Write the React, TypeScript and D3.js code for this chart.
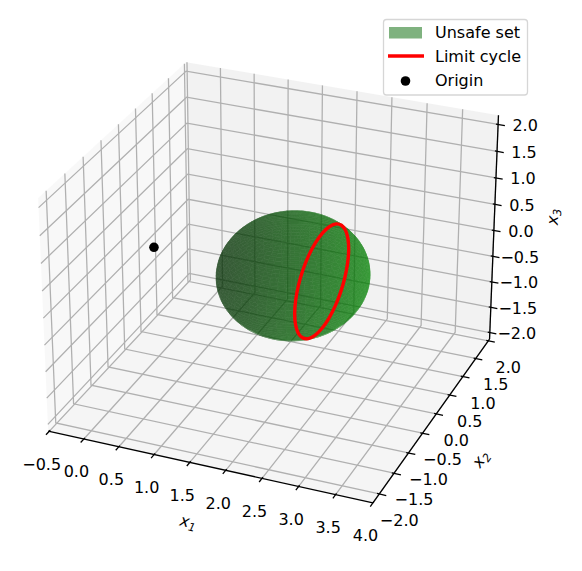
import React from "react";
import * as d3 from "d3";

const xTicks = [-0.5, 0, 0.5, 1, 1.5, 2, 2.5, 3, 3.5, 4];
const yTicks = [-2, -1.5, -1, -0.5, 0, 0.5, 1, 1.5, 2];
const zTicks = [-2, -1.5, -1, -0.5, 0, 0.5, 1, 1.5, 2];
const xE = [-0.515, 4.0];
const yE = [-2.21, 2.05];
const zE = [-2.13, 2.17];
const sphereCentre = [1.965, 0, -0.04];
const sphereRadius = 1.0;
const sphereSteps = 50;
const cycleX1 = 2.375;
const cycleX2 = [0.9, 0.869, 0.779, 0.636, 0.45, 0.233, 0, -0.233, -0.45, -0.636, -0.779, -0.869, -0.9, -0.869, -0.779, -0.636, -0.45, -0.233, 0, 0.233, 0.45, 0.636, 0.779, 0.869];
const cycleX3 = [-0.04, 0.193, 0.41, 0.596, 0.739, 0.829, 0.86, 0.829, 0.739, 0.596, 0.41, 0.193, -0.04, -0.273, -0.49, -0.676, -0.819, -0.909, -0.94, -0.909, -0.819, -0.676, -0.49, -0.273];
const origin = [-0.04, 0, -0.02];
const legendLabels = ["Unsafe set", "Limit cycle", "Origin"];

const W = 582, H = 571;
const elev = (28 * Math.PI) / 180, azim = (-67.5 * Math.PI) / 180, dist = 10;
const boxUnit = (1.8294640721620434 * 25) / 24 / Math.hypot(4, 4, 3);
const box = [4 * boxUnit, 4 * boxUnit, 3 * boxUnit];
const bx = d3.scaleLinear().domain(xE).range([0, box[0]]);
const by = d3.scaleLinear().domain(yE).range([0, box[1]]);
const bz = d3.scaleLinear().domain(zE).range([0, box[2]]);
const wv = [Math.cos(elev) * Math.cos(azim), Math.cos(elev) * Math.sin(azim), Math.sin(elev)];
const un = Math.hypot(wv[0], wv[1]);
const uv = [-wv[1] / un, wv[0] / un, 0];
const vv = [-wv[2] * uv[1], wv[2] * uv[0], wv[0] * uv[1] - wv[1] * uv[0]];
const sx = d3.scaleLinear().domain([-0.1, 0.1]).range([275 - 289.5, 275 + 289.5]);
const sy = d3.scaleLinear().domain([-0.1, 0.1]).range([272 + 289.5, 272 - 289.5]);

function project(x: number, y: number, z: number) {
  const d = [bx(x) - box[0] / 2, by(y) - box[1] / 2, bz(z) - box[2] / 2];
  const dot = (a: number[]) => a[0] * d[0] + a[1] * d[1] + a[2] * d[2];
  const depth = dist - dot(wv);
  return { x: sx(dot(uv) / depth), y: sy(dot(vv) / depth), depth };
}
const line3 = (pts: number[][]) => {
  const p = pts.map((q) => project(q[0], q[1], q[2]));
  return d3.line<{ x: number; y: number }>().x((d) => d.x).y((d) => d.y)(p) || "";
};

// sphere mesh: two hemispheres, each opaque inside a translucent group
const light = [-0.6667, -0.6667, 0.3333];
type Quad = { d: string; fill: string; front: boolean };
function sphereQuads(): Quad[] {
  const quads: Quad[] = [];
  const us = d3.range(sphereSteps + 1).map((i) => (2 * Math.PI * i) / sphereSteps);
  const vs = d3.range(sphereSteps + 1).map((i) => (Math.PI * i) / sphereSteps);
  const pt = (u: number, v: number) => [
    sphereCentre[0] + sphereRadius * Math.cos(u) * Math.sin(v),
    sphereCentre[1] + sphereRadius * Math.sin(u) * Math.sin(v),
    sphereCentre[2] + sphereRadius * Math.cos(v),
  ];
  for (let i = 0; i < sphereSteps; i++)
    for (let j = 0; j < sphereSteps; j++) {
      const um = (us[i] + us[i + 1]) / 2, vm = (vs[j] + vs[j + 1]) / 2;
      const n = [Math.cos(um) * Math.sin(vm), Math.sin(um) * Math.sin(vm), Math.cos(vm)];
      const shade = -(n[0] * light[0] + n[1] * light[1] + n[2] * light[2]);
      const k = 0.3 + (0.7 * (shade + 1)) / 2;
      const corners = [pt(us[i], vs[j]), pt(us[i + 1], vs[j]), pt(us[i + 1], vs[j + 1]), pt(us[i], vs[j + 1])];
      const prj = corners.map((c) => project(c[0], c[1], c[2]));
      quads.push({
        d: "M" + prj.map((p) => `${p.x.toFixed(2)},${p.y.toFixed(2)}`).join("L") + "Z",
        fill: `rgb(0,${Math.round(136 * k)},0)`,
        front: n[0] * wv[0] + n[1] * wv[1] + n[2] * wv[2] > 0,
      });
    }
  return quads;
}

const GRID = "#b0b0b0";
const FONT = "'DejaVu Sans', sans-serif";
const FS = 16;
const fmt = (v: number) => v.toFixed(1).replace("-", "\u2212");
const dx = (xE[1] - xE[0]) / 12, dy = (yE[1] - yE[0]) / 12;

export default function App() {
  const quads = sphereQuads();
  const cyclePts = cycleX2.map((y, i) => project(cycleX1, y, cycleX3[i]));
  const cyclePath = d3.line<{ x: number; y: number }>().x((d) => d.x).y((d) => d.y).curve(d3.curveCatmullRomClosed)(cyclePts) || "";
  const o = project(origin[0], origin[1], origin[2]);
  const pane = (pts: number[][], fill: string, key: string) => <path key={key} d={line3(pts) + "Z"} fill={fill} />;
  return (
    <svg width={W} height={H} viewBox={`0 0 ${W} ${H}`} style={{ position: "absolute", left: 0, top: 0 }} fontFamily={FONT}>
      <rect width={W} height={H} fill="#fff" />
      {pane([[xE[0], yE[0], zE[0]], [xE[0], yE[1], zE[0]], [xE[0], yE[1], zE[1]], [xE[0], yE[0], zE[1]]], "rgba(242,242,242,0.5)", "px")}
      {pane([[xE[0], yE[1], zE[0]], [xE[1], yE[1], zE[0]], [xE[1], yE[1], zE[1]], [xE[0], yE[1], zE[1]]], "rgba(230,230,230,0.5)", "py")}
      {pane([[xE[0], yE[0], zE[0]], [xE[1], yE[0], zE[0]], [xE[1], yE[1], zE[0]], [xE[0], yE[1], zE[0]]], "rgba(236,236,236,0.5)", "pz")}
      <g fill="none" stroke={GRID} strokeWidth={1.28}>
        {xTicks.map((t) => <path key={"gx" + t} d={line3([[t, yE[0], zE[0]], [t, yE[1], zE[0]], [t, yE[1], zE[1]]])} />)}
        {yTicks.map((t) => <path key={"gy" + t} d={line3([[xE[1], t, zE[0]], [xE[0], t, zE[0]], [xE[0], t, zE[1]]])} />)}
        {zTicks.map((t) => <path key={"gz" + t} d={line3([[xE[1], yE[1], t], [xE[0], yE[1], t], [xE[0], yE[0], t]])} />)}
      </g>
      <g fill="none" stroke="#000" strokeWidth={1.28}>
        <path d={line3([[xE[0], yE[0], zE[0]], [xE[1], yE[0], zE[0]]])} />
        <path d={line3([[xE[1], yE[0], zE[0]], [xE[1], yE[1], zE[0]]])} />
        <path d={line3([[xE[1], yE[1], zE[0]], [xE[1], yE[1], zE[1]]])} />
        {xTicks.map((t) => <path key={"tx" + t} d={line3([[t, yE[0] + 0.08 * dy, zE[0]], [t, yE[0] - 0.25 * dy, zE[0]]])} />)}
        {yTicks.map((t) => <path key={"ty" + t} d={line3([[xE[1] - 0.08 * dx, t, zE[0]], [xE[1] + 0.25 * dx, t, zE[0]]])} />)}
        {zTicks.map((t) => <path key={"tz" + t} d={line3([[xE[1] - 0.08 * dx, yE[1], t], [xE[1] + 0.25 * dx, yE[1], t]])} />)}
      </g>
      <g opacity={0.52}>
        {quads.filter((q) => !q.front).map((q, i) => <path key={i} d={q.d} fill={q.fill} stroke={q.fill} strokeWidth={0.4} />)}
      </g>
      <g opacity={0.52}>
        {quads.filter((q) => q.front).map((q, i) => <path key={i} d={q.d} fill={q.fill} stroke={q.fill} strokeWidth={0.4} />)}
      </g>
      <path d={cyclePath} fill="none" stroke="#f00" strokeWidth={3.4} />
      <circle cx={o.x} cy={o.y} r={4.8} fill="#000" />
      <g fontSize={FS} fill="#000" textAnchor="middle" dominantBaseline="central">
        {xTicks.map((t) => {
          const p = project(t, yE[0], zE[0]);
          return <text key={"lx" + t} x={p.x - 7.5} y={p.y + 33}>{fmt(t)}</text>;
        })}
        {yTicks.map((t) => {
          const p = project(xE[1], t, zE[0]);
          return <text key={"ly" + t} x={p.x + 20} y={p.y + 26.5}>{fmt(t)}</text>;
        })}
        {zTicks.map((t) => {
          const p = project(xE[1], yE[1], t);
          return <text key={"lz" + t} x={p.x + 27} y={p.y + 1}>{fmt(t)}</text>;
        })}
      </g>
      <g fontSize={FS} fontStyle="italic" fill="#000" textAnchor="middle">
        <text transform="translate(187,527) rotate(12.5)">x<tspan fontSize={11.2} dy={3}>1</tspan></text>
        <text transform="translate(485,462) rotate(-54)">x<tspan fontSize={11.2} dy={3}>2</tspan></text>
        <text transform="translate(558,217) rotate(-88)">x<tspan fontSize={11.2} dy={3}>3</tspan></text>
      </g>
      <g>
        <rect x={383.5} y={19.5} width={144} height={75.5} rx={3} fill="rgba(255,255,255,0.8)" stroke="rgba(204,204,204,0.8)" strokeWidth={1.28} />
        <rect x={389} y={27} width={33} height={11.5} fill="rgb(127,178,127)" />
        <path d="M388,56H424" stroke="#f00" strokeWidth={3.4} fill="none" />
        <circle cx={405.5} cy={81} r={4.8} fill="#000" />
        <g fontSize={FS} fill="#000">
          {legendLabels.map((l, i) => <text key={l} x={435} y={38 + i * 24}>{l}</text>)}
        </g>
      </g>
    </svg>
  );
}
